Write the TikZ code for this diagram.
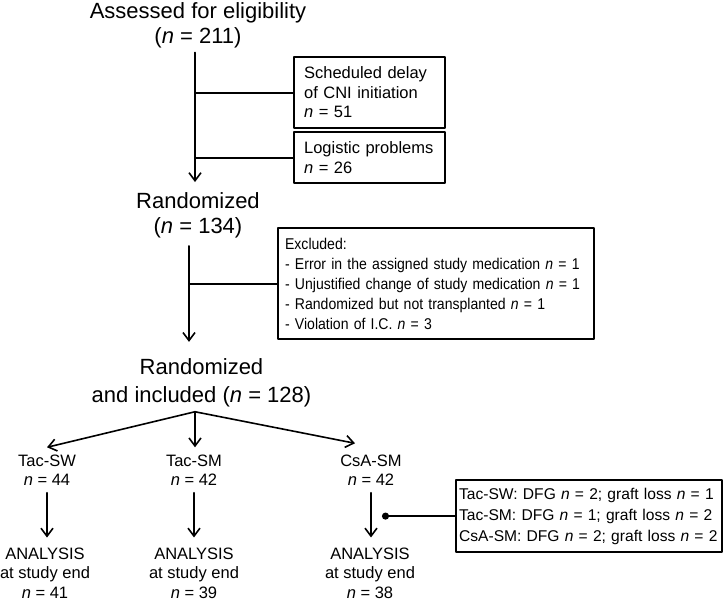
\documentclass[tikz,border=0pt]{standalone}
\usepackage{fontspec}
\setmainfont{Liberation Sans}
\newfontfamily\narrowsans{Liberation Sans}[FakeStretch=0.9]
\usetikzlibrary{arrows.meta,calc}

\begin{document}
\begin{tikzpicture}[x=1pt,y=-1pt,>={Straight Barb[length=8pt,width=12pt]}, font=\fontsize{16.5}{19.5}\selectfont, line join=round, line cap=round,
	title/.style={font=\fontsize{22}{25}\selectfont, align=center, inner sep=4pt},
	arm/.style={align=center, inner xsep=2pt, inner ysep=7pt},
	result/.style={align=center, inner xsep=2pt, inner ysep=10pt},
	sidebox/.style={draw, line width=2.2pt, align=left, anchor=north west, inner xsep=10pt, inner ysep=0pt},
	flow/.style={->, line width=1.6pt},
	link/.style={line width=2pt}]
				\useasboundingbox (0,0) rectangle (723,605);
				\node[title] (assess) at (198,25.5) {Assessed for eligibility\\(\textit{n} = 211)};
				\node[sidebox, text width=131pt, minimum height=71pt] (delay) at (293,56) {Scheduled delay\\of CNI initiation\\\textit{n} = 51};
				\node[sidebox, text width=131pt, minimum height=51pt] (logist) at (293,131) {Logistic problems\\\textit{n} = 26};
				\node[title] (rand) at (198,215) {Randomized\\(\textit{n} = 134)};
				\node[sidebox, font=\narrowsans\fontsize{15.6}{20}\selectfont, inner xsep=7pt, text width=302pt, minimum height=111pt] (excl) at (277,227) {Excluded:\\- Error in the assigned study medication \textit{n} = 1\\- Unjustified change of study medication \textit{n} = 1\\- Randomized but not transplanted \textit{n} = 1\\- Violation of I.C. \textit{n} = 3};
				\node[title, font=\fontsize{22}{28}\selectfont] (incl) at (201.5,383.3) {Randomized\\and included (\textit{n} = 128)};
				\node[arm] (tacsw) at (47,470) {Tac-SW\\\textit{n} = 44};
				\node[arm] (tacsm) at (194,470) {Tac-SM\\\textit{n} = 42};
				\node[arm] (csasm) at (371,470) {CsA-SM\\\textit{n} = 42};
				\node[result] (endsw) at (45,573) {ANALYSIS\\at study end\\\textit{n} = 41};
				\node[result] (endsm) at (194,573) {ANALYSIS\\at study end\\\textit{n} = 39};
				\node[result] (endcsa) at (370,573) {ANALYSIS\\at study end\\\textit{n} = 38};
				\node[sidebox, font=\fontsize{15.6}{21}\selectfont, inner xsep=3pt, text width=260pt, minimum height=72pt] (loss) at (455,479) {Tac-SW: DFG \textit{n} = 2; graft loss \textit{n} = 1\\Tac-SM: DFG \textit{n} = 1; graft loss \textit{n} = 2\\CsA-SM: DFG \textit{n} = 2; graft loss \textit{n} = 2};
				\draw[flow, shorten >=6pt] ([xshift=-3pt]assess.south) coordinate (top) -- ([xshift=-3pt]rand.north);
				\draw[link] (top |- delay.west) -- (delay.west);
				\draw[link] (top |- logist.west) -- (logist.west);
				\draw[flow, shorten <=4pt, shorten >=13pt] ([xshift=-9pt]rand.south) coordinate (mid) -- (mid |- incl.north);
				\draw[link] (mid |- excl.west) -- (excl.west);
				\draw[flow] ([xshift=-6.5pt]incl.south) coordinate (fork) -- (tacsw.north);
				\draw[flow] (fork) -- (fork |- tacsm.north);
				\draw[flow] (fork) -- ([xshift=-16pt, yshift=4pt]csasm.north);
				\draw[flow] (tacsw.south) -- (tacsw.south |- endsw.north);
				\draw[flow] (tacsm.south) -- (tacsm.south |- endsm.north);
				\draw[flow] (csasm.south) -- (csasm.south |- endcsa.north);
				\draw[link, {Circle[length=7pt]}-] ([xshift=11pt]csasm.south |- loss.west) -- (loss.west);
			\end{tikzpicture}
\end{document}
